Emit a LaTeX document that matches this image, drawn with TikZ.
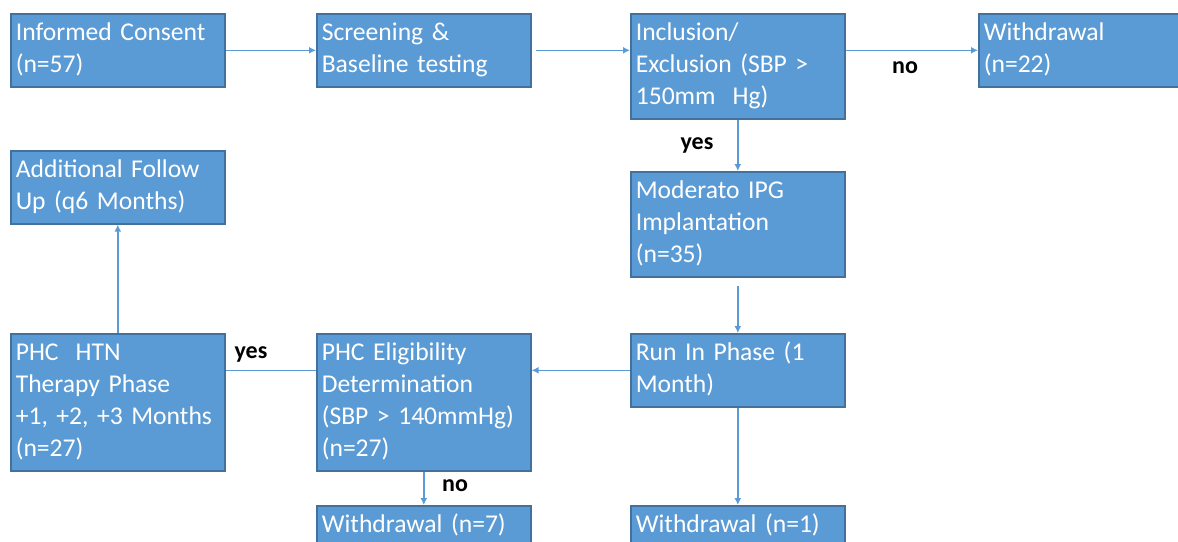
\documentclass[tikz,border=0pt]{standalone}
\usepackage{color}
\usepackage{fontspec}
\setmainfont{Carlito}[WordSpace=0.75]
\usetikzlibrary{arrows.meta}

\definecolor{boxblue}{RGB}{91,155,213}
\definecolor{boxline}{RGB}{65,113,156}

\tikzset{
  stage/.style={rectangle, anchor=north west, fill=boxblue, draw=boxline, line width=0.8pt,
    text=white, align=left, text width=102pt, inner xsep=2.5pt, inner ysep=2.25pt,
    font=\fontsize{12.8}{16}\selectfont,
    execute at begin node=\strut, execute at end node=\strut},
  flow/.style={draw=boxblue, line width=0.7pt},
  answer/.style={font=\fontsize{12}{14}\selectfont\bfseries}
}

\begin{document}
\begin{tikzpicture}[x=0.5pt, y=-0.5pt, >={Latex[length=3.5pt,width=3.5pt]}]

   \useasboundingbox (0,0) rectangle (1178,541);

   % top row
   \node[stage] (consent) at (10,13) {Informed Consent\\(n=57)};
   \node[stage] (screen) at (316,13) {Screening \&\\Baseline testing};
   \node[stage] (incl) at (630,13) {Inclusion/\\Exclusion (SBP >\\150mm~ Hg)};
   \node[stage] (wdA) at (978,13) {Withdrawal\\(n=22)};

   % middle and bottom
   \node[stage] (follow) at (10,150) {Additional Follow\\Up (q6 Months)};
   \node[stage] (ipg) at (630,171) {Moderato IPG\\Implantation\\(n=35)};
   \node[stage] (runin) at (630,333) {Run In Phase (1\\Month)};
   \node[stage] (elig) at (316,333) {PHC Eligibility\\Determination\\(SBP > 140mmHg)\\(n=27)};
   \node[stage] (htn) at (10,333) {PHC~ HTN\\Therapy Phase\\+1, +2, +3 Months\\(n=27)};
   \node[stage] (wdB) at (316,505) {Withdrawal (n=7)};
   \node[stage] (wdC) at (630,505) {Withdrawal (n=1)};

   % yes / no
   \node[answer] (noA) at (905,68) {no};
   \node[answer] (yesA) at (697,145) {yes};
   \node[answer] (yesB) at (251,354) {yes};
   \node[answer] (noB) at (455,486) {no};

   \draw [flow,->] (consent.east) -- (screen.west);
   \draw [flow,->,shorten <=2pt] (screen.east) -- (screen.east -| incl.west);
   \draw [flow,->] (incl.east |- wdA.west) -- (wdA.west);
   \draw [flow,->] (incl.south) -- (ipg.north);
   \draw [flow,->,shorten <=4pt] (ipg.south) -- (runin.north);
   \draw [flow,->] (runin.west) -- (runin.west -| elig.east);
   \draw [flow] (runin.west -| elig.west) -- (runin.west -| htn.east);
   \draw [flow,->] (htn.north) -- (follow.south);
   \draw [flow,->] (elig.south) -- (wdB.north);
   \draw [flow,->] (runin.south) -- (wdC.north);
  \end{tikzpicture}
\end{document}
